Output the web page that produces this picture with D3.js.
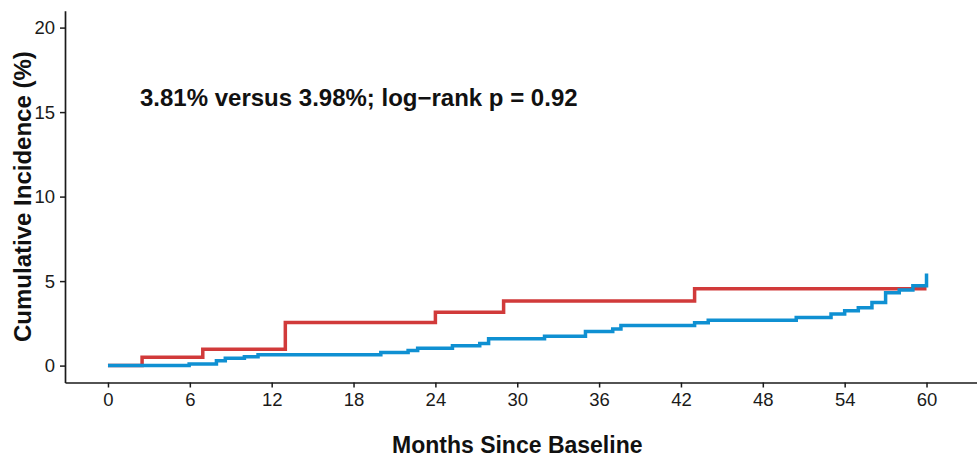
<!DOCTYPE html>
<html>
<head>
<meta charset="utf-8">
<script src="https://cdn.jsdelivr.net/npm/d3@7"></script>
<style>
  html, body { margin: 0; padding: 0; background: #fff; }
  svg { display: block; font-family: "Liberation Sans", Arial, Helvetica, sans-serif; }
</style>
</head>
<body>
<svg id="chart" width="977" height="459"></svg>
<script>
// Cumulative incidence step curves (months, %)
const redTimes   = [0, 2.5, 6.95, 13.0, 24.0, 29.0, 43.0, 60];
const redValues  = [0, 0.49, 0.97, 2.55, 3.15, 3.82, 4.55, 4.55];

const blueTimes  = [0, 5.95, 7.95, 8.6, 10.0, 11.0, 20.0, 22.0, 22.7, 25.25, 27.25, 27.9, 32.0, 35.0, 37.0, 37.6,
                    43.0, 44.0, 50.45, 53.0, 54.0, 55.0, 56.0, 57.0, 58.0, 59.0, 60.0];
const blueValues = [0, 0.09, 0.29, 0.43, 0.52, 0.64, 0.78, 0.90, 1.03, 1.17, 1.31, 1.59, 1.73, 2.02, 2.16, 2.38,
                    2.53, 2.69, 2.85, 3.05, 3.24, 3.42, 3.74, 4.31, 4.47, 4.72, 5.45];

const xTicks = [0, 6, 12, 18, 24, 30, 36, 42, 48, 54, 60];
const yTicks = [0, 5, 10, 15, 20];

const annotation = "3.81% versus 3.98%; log\u2212rank p = 0.92";
const xTitle = "Months Since Baseline";
const yTitle = "Cumulative Incidence (%)";

const svg = d3.select("#chart");

const x = d3.scaleLinear().domain([-3.15, 63.7]).range([65, 977]);
const y = d3.scaleLinear().domain([-1, 21]).range([382.5, 10.7]);

const redData = redTimes.map((t, i) => [t, redValues[i]]);
const blueData = blueTimes.map((t, i) => [t, blueValues[i]]);

const line = d3.line()
  .x(d => x(d[0]))
  .y(d => y(d[1]))
  .curve(d3.curveStepAfter);

// Axes
const xAxis = svg.append("g")
  .attr("transform", `translate(0,${y.range()[0]})`)
  .call(d3.axisBottom(x).tickValues(xTicks).tickSize(5).tickPadding(5).tickSizeOuter(0));
const yAxis = svg.append("g")
  .attr("transform", `translate(${x.range()[0]},0)`)
  .call(d3.axisLeft(y).tickValues(yTicks).tickSize(5).tickPadding(5).tickSizeOuter(0));

[xAxis, yAxis].forEach(g => {
  g.select(".domain").attr("stroke", "#1a1a1a").attr("stroke-width", 1.7);
  g.selectAll(".tick line").attr("stroke", "#1a1a1a").attr("stroke-width", 1.5);
  g.selectAll(".tick text")
    .attr("fill", "#1a1a1a")
    .style("font-size", "18.5px")
    .style("font-family", "'Liberation Sans', Arial, sans-serif");
});

// Curves: red drawn first, blue on top
svg.append("path")
  .datum(redData)
  .attr("fill", "none")
  .attr("stroke", "#d13a3a")
  .attr("stroke-width", 3.5)
  .attr("d", line);

svg.append("path")
  .datum(blueData)
  .attr("fill", "none")
  .attr("stroke", "#0f90d2")
  .attr("stroke-width", 3.5)
  .attr("d", line);

// Titles
svg.append("text")
  .attr("x", 140)
  .attr("y", 106)
  .attr("font-size", 24)
  .attr("font-weight", "bold")
  .attr("fill", "#111")
  .text(annotation);

svg.append("text")
  .attr("x", (x(0) + x(60)) / 2)
  .attr("y", 453)
  .attr("text-anchor", "middle")
  .attr("font-size", 23)
  .attr("font-weight", "bold")
  .attr("fill", "#111")
  .text(xTitle);

svg.append("text")
  .attr("transform", `translate(31,${(y(-1) + y(21)) / 2}) rotate(-90)`)
  .attr("text-anchor", "middle")
  .attr("font-size", 24)
  .attr("font-weight", "bold")
  .attr("fill", "#111")
  .text(yTitle);
</script>
</body>
</html>
